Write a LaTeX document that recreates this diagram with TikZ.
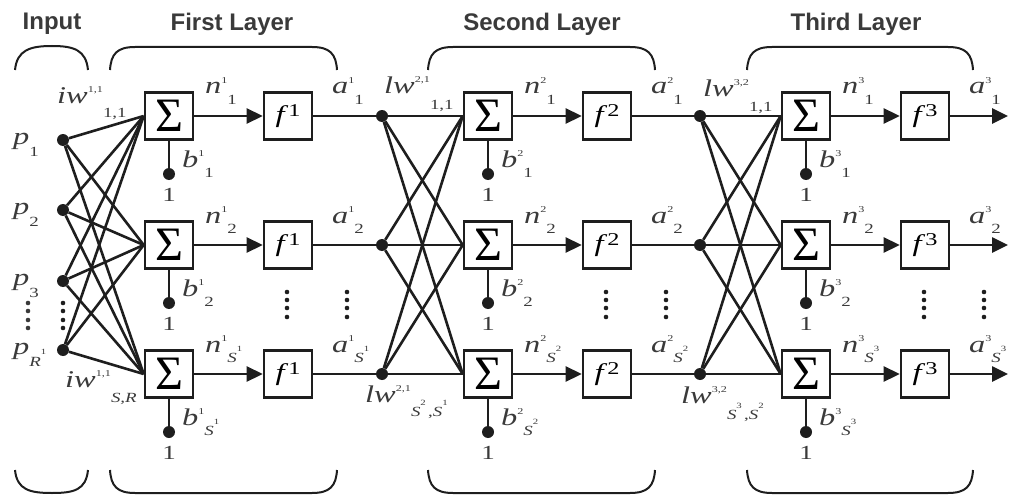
\documentclass[tikz,border=0pt]{standalone}
\usepackage{fontspec}
\setmainfont{Liberation Serif}
\newfontfamily\titlefont{Liberation Sans}
\newfontfamily\labfont[FakeStretch=1.35]{Liberation Serif}
\usetikzlibrary{arrows.meta}

\definecolor{ink}{HTML}{1E1E1E}
\definecolor{txt}{HTML}{3A3A3A}

% base, tiny superscript, lowered subscript
\newcommand{\wlab}[4][0.45em]{\textit{#2}\raisebox{0.42em}{\fontsize{9}{9}\selectfont #3}\raisebox{-#1}{\fontsize{14}{14}\selectfont #4}}
\newcommand{\sx}[1]{\textit{S}\raisebox{0.8em}{\fontsize{8}{8}\selectfont #1}}
\newcommand{\fsym}[1]{\textit{f}\raisebox{0.25em}{\fontsize{18}{18}\selectfont #1}}

\begin{document}
\begin{tikzpicture}[x=1pt,y=-1pt,
  wire/.style={draw=ink,line width=2.6pt},
  arr/.style={-{Triangle[length=16pt,width=15pt]}},
  brace/.style={draw=ink,line width=2pt},
  sumbox/.style={draw=ink,line width=2.6pt,fill=white,minimum width=48pt,minimum height=47pt,inner sep=0pt,font=\fontsize{48}{48}\selectfont},
  funbox/.style={draw=ink,line width=2.6pt,fill=white,minimum width=48pt,minimum height=47pt,inner sep=0pt,font=\labfont\fontsize{24}{24}\selectfont},
  dot/.style={circle,fill=ink,inner sep=0pt,minimum size=12pt},
  lab/.style={text=txt,inner sep=0pt,anchor=base west,font=\labfont\fontsize{24}{26}\selectfont},
  one/.style={text=txt,inner sep=0pt,font=\labfont\fontsize{20}{20}\selectfont},
  ttl/.style={text=txt,inner sep=0pt,font=\titlefont\bfseries\fontsize{24}{24}\selectfont}]
\useasboundingbox (0,0) rectangle (1010,495);

%titles
\node[ttl] (tin) at (52,24) {Input};
\node[ttl] (tl1) at (232,24) {First Layer};
\node[ttl] (tl2) at (542,24) {Second Layer};
\node[ttl] (tl3) at (856,24) {Third Layer};

%braces
\draw[brace] (15,70) .. controls (17,50) and (30,46) .. (52,46) .. controls (74,46) and (86,50) .. (88,70);
\draw[brace] (15,470) .. controls (17,490) and (30,493) .. (52,493) .. controls (74,493) and (86,490) .. (88,470);
\foreach \a/\b in {110/337,428/655,747/973} {
  \draw[brace] (\a,70) .. controls (\a+1,54) and (\a+7,47) .. (\a+25,47) -- (\b-25,47) .. controls (\b-7,47) and (\b-1,54) .. (\b,70);
  \draw[brace] (\a,470) .. controls (\a+1,486) and (\a+7,493) .. (\a+25,493) -- (\b-25,493) .. controls (\b-7,493) and (\b-1,486) .. (\b,470);
}

%inputs
\node[dot] (in1) at (63,140) {};
\node[dot] (in2) at (63,210) {};
\node[dot] (in3) at (63,281) {};
\node[dot] (in4) at (63,350) {};
\node[lab] (p1) at (13,144) {\wlab[0.5em]{p}{}{1}};
\node[lab] (p2) at (13,214) {\wlab[0.5em]{p}{}{2}};
\node[lab] (p3) at (13,285) {\wlab[0.5em]{p}{}{3}};
\node[lab] (p4) at (13,354) {\wlab[0.5em]{p}{}{\textit{R}\raisebox{0.8em}{\fontsize{8}{8}\selectfont 1}}};
\foreach \yy in {303,311,320,328} {
  \fill[ink] (63,\yy) circle (2.3pt);
  \fill[txt] (28,\yy) circle (2.3pt);
}

%neurons of the three layers
\foreach \lay/\x in {1/169,2/488,3/806} {
  \foreach \row/\y/\idx in {1/116/1,2/245/2,3/374/{\sx{\lay}}} {
    \node[sumbox] (s\lay\row) at (\x,\y) {Σ};
    \node[funbox] (f\lay\row) at (\x+119,\y) {\fsym{\lay}};
    \node[dot] (b\lay\row) at (\x,\y+58) {};
    \node[one] (o\lay\row) at (\x,\y+79) {1};
    \draw[wire] (s\lay\row) -- (b\lay\row);
    \draw[wire,arr] (s\lay\row) -- (f\lay\row);
    \node[lab] (n\lay\row) at (\x+36,\y-22) {\wlab{n}{\lay}{\idx}};
    \node[lab] (a\lay\row) at (\x+163,\y-22) {\wlab{a}{\lay}{\idx}};
    \node[lab] (bl\lay\row) at (\x+13,\y+51) {\wlab{b}{\lay}{\idx}};
  }
  %vertical dots
  \foreach \yy in {292,300,308,317} {
    \fill[ink] (\x+118,\yy) circle (2.3pt);
    \fill[ink] (\x+178,\yy) circle (2.3pt);
  }
}

%input weights
\foreach \i in {1,...,4}
  \foreach \k in {1,2,3}
    \draw[wire] (in\i) -- (s1\k.west);

%layer weights
\foreach \row/\y in {1/116,2/245,3/374} {
  \node[dot] (j2\row) at (382,\y) {};
  \node[dot] (j3\row) at (700,\y) {};
  \coordinate (out\row) at (1008,\y);
  \draw[wire] (f1\row) -- (j2\row);
  \draw[wire] (f2\row) -- (j3\row);
  \draw[wire,arr] (f3\row) -- (out\row);
}
\foreach \i in {1,2,3}
  \foreach \k in {1,2,3} {
    \draw[wire] (j2\i) -- (s2\k.west);
    \draw[wire] (j3\i) -- (s3\k.west);
  }

%weight labels
\node[lab] (iw1) at (57,103) {\wlab[0.62em]{iw}{1,1}{1,1}};
\node[lab] (iw2) at (65,387) {\wlab[0.65em]{iw}{1,1}{\textit{S,R}}};
\node[lab] (lw21) at (384,93) {\wlab[0.7em]{lw}{2,1}{1,1}};
\node[lab] (lw22) at (365,402) {\wlab[0.62em]{lw}{2,1}{\sx{2}\,,\sx{1}}};
\node[lab] (lw31) at (703,96) {\wlab[0.65em]{lw}{3,2}{1,1}};
\node[lab] (lw32) at (681,403) {\wlab[0.68em]{lw}{3,2}{\sx{3}\,,\sx{2}}};
\end{tikzpicture}
\end{document}
